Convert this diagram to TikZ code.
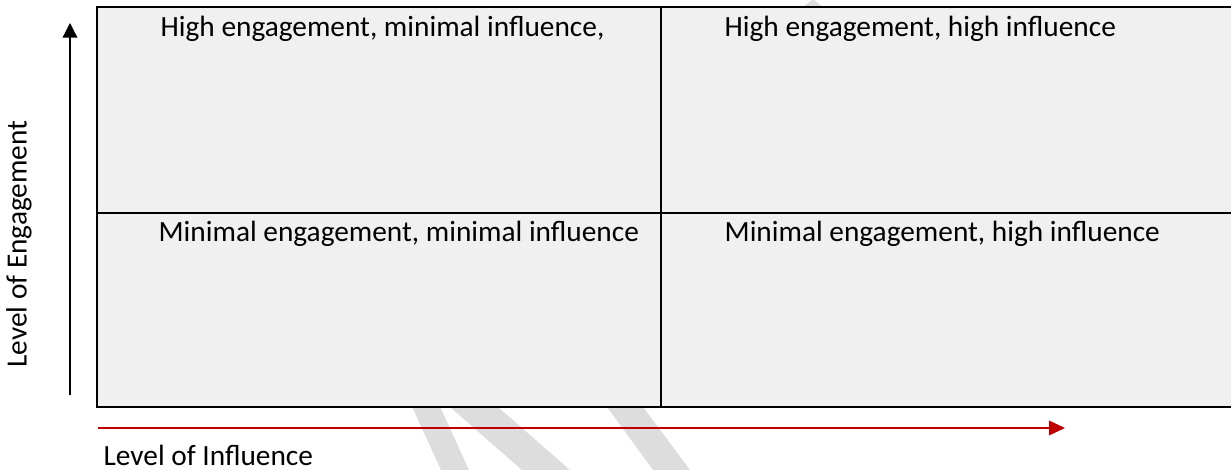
\documentclass[tikz,border=0pt]{standalone}
\usepackage{fontspec}
\setmainfont{Carlito}
\usetikzlibrary{arrows.meta}
\definecolor{cellgray}{HTML}{F0F0F0}
\definecolor{markgray}{HTML}{DDDDDD}
\definecolor{axisred}{HTML}{C00000}
\begin{document}
\begin{tikzpicture}[x=0.75pt, y=-0.75pt, line width=1pt,
  celltext/.style={anchor=base west, inner sep=0pt, font=\fontsize{22}{26}\selectfont},
  axistext/.style={inner sep=0pt, font=\fontsize{22}{26}\selectfont}]

  \useasboundingbox (0,0) rectangle (1231,470);
  \clip (0,0) rectangle (1231,470);

  % watermark
  \fill[markgray] (409,400)--(437,400)--(469,470)--(441,470)--cycle;
  \fill[markgray] (442,400)--(490,400)--(570,470)--(522,470)--cycle;
  \fill[markgray] (602,400)--(638,400)--(690,470)--(653,470)--cycle;
  \fill[markgray] (802,8)--(813,-1)--(824,8)--cycle;

  % grid
  \draw[line width=1.6pt, fill=cellgray] (97,7) rectangle (1240,407);
  \draw[line width=1.6pt] (97,213)--(1240,213);
  \draw[line width=1.6pt] (661,7)--(661,407);

  \node[celltext] (hemi) at (160,37){High engagement, minimal influence,};
  \node[celltext] (hehi) at (724,37){High engagement, high influence};
  \node[celltext] (memi) at (158,242){Minimal engagement, minimal influence};
  \node[celltext] (mehi) at (724,242){Minimal engagement, high influence};

  % axes
  \coordinate (eng0) at (70,395);
  \coordinate (eng1) at (70,23);
  \draw[-{Triangle[length=11pt, width=11pt]}] (eng0)--(eng1);
  \node[axistext, rotate=90] (englabel) at (19,244){Level of Engagement};

  \coordinate (inf0) at (98,428);
  \coordinate (inf1) at (1065,428);
  \draw[-{Triangle[length=12pt, width=11pt]}, axisred, line width=1.2pt] (inf0)--(inf1);
  \node[axistext, anchor=base west] (inflabel) at (103,465){Level of Influence};

\end{tikzpicture}
\end{document}
